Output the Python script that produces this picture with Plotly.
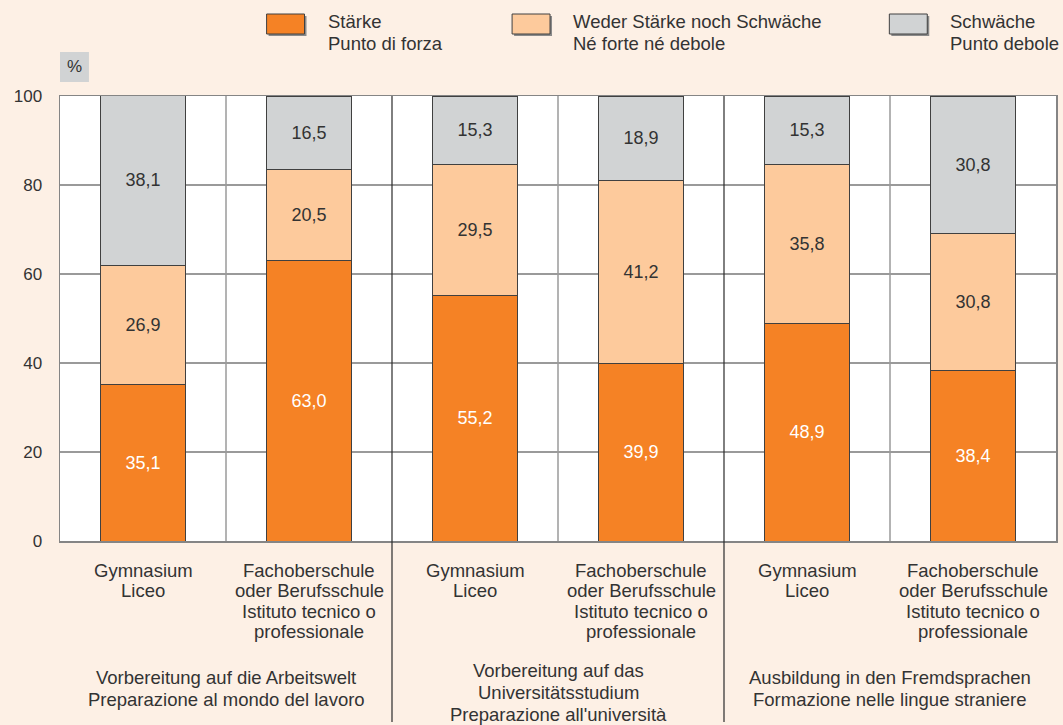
import plotly.graph_objects as go

categories = [0, 1, 2, 3, 4, 5]
tick_labels = [
    ["Gymnasium", "Liceo"],
    ["Fachoberschule", "oder Berufsschule", "Istituto tecnico o", "professionale"],
    ["Gymnasium", "Liceo"],
    ["Fachoberschule", "oder Berufsschule", "Istituto tecnico o", "professionale"],
    ["Gymnasium", "Liceo"],
    ["Fachoberschule", "oder Berufsschule", "Istituto tecnico o", "professionale"],
]
group_labels = [
    ["Vorbereitung auf die Arbeitswelt", "Preparazione al mondo del lavoro"],
    ["Vorbereitung auf das", "Universitätsstudium", "Preparazione all'università"],
    ["Ausbildung in den Fremdsprachen", "Formazione nelle lingue straniere"],
]
group_centers = [0.5, 2.5, 4.5]

staerke = [35.1, 63.0, 55.2, 39.9, 48.9, 38.4]
weder = [26.9, 20.5, 29.5, 41.2, 35.8, 30.8]
schwaeche = [38.1, 16.5, 15.3, 18.9, 15.3, 30.8]

series_names = [["Stärke", "Punto di forza"],
                ["Weder Stärke noch Schwäche", "Né forte né debole"],
                ["Schwäche", "Punto debole"]]
colors = ["#f58225", "#fdca9c", "#d1d3d4"]
text_colors = ["#ffffff", "#333333", "#333333"]

BG = "#fdf0e5"
FONT = "Liberation Sans, Arial, sans-serif"
TXT = "#333333"
FS = 18.5

def fmt(v):
    return f"{v:.1f}".replace(".", ",")

fig = go.Figure()
for vals, name, col, tcol in zip([staerke, weder, schwaeche], series_names, colors, text_colors):
    fig.add_trace(go.Bar(
        x=categories, y=vals, name=" / ".join(name), width=0.51,
        marker=dict(color=col, line=dict(color="#404040", width=1)),
        text=[fmt(v) for v in vals], textposition="inside", insidetextanchor="middle",
        textfont=dict(family=FONT, size=18, color=tcol), textangle=0,
        showlegend=False, hoverinfo="skip",
    ))

W, H = 1063, 725
L, R, T, B = 60, 5, 96, 184
pw, ph = W - L - R, H - T - B
def px(x):
    return (x - L) / pw
def py(y):
    return (H - B - y) / ph

shapes = []
for xv in [0.5, 2.5, 4.5]:
    shapes.append(dict(type="line", xref="x", yref="paper", x0=xv, x1=xv, y0=0, y1=1,
                       line=dict(color="#9a9a9a", width=1.5), layer="below"))
for xv in [1.5, 3.5]:
    shapes.append(dict(type="line", xref="x", yref="paper", x0=xv, x1=xv, y0=py(722), y1=1,
                       line=dict(color="#2a2a2a", width=1.2), layer="above"))

annotations = []
def add_text(x, y, s, xref="paper", xanchor="center", size=FS):
    annotations.append(dict(xref=xref, yref="paper", x=x, y=py(y), xanchor=xanchor, yanchor="middle",
                            text=s, showarrow=False, font=dict(family=FONT, size=size, color=TXT)))

legend_pos = [(267, 327), (513, 572), (891, 950)]
for (bx, tx), col, name in zip(legend_pos, colors, series_names):
    shapes.append(dict(type="rect", xref="paper", yref="paper",
                       x0=px(bx + 2), x1=px(bx + 40), y0=py(36), y1=py(16),
                       fillcolor="#8a8a8a", line=dict(width=0)))
    shapes.append(dict(type="rect", xref="paper", yref="paper",
                       x0=px(bx), x1=px(bx + 38), y0=py(34), y1=py(14),
                       fillcolor=col, line=dict(color="#404040", width=1)))
    add_text(px(tx), 21, name[0], xanchor="left")
    add_text(px(tx), 44, name[1], xanchor="left")

shapes.append(dict(type="rect", xref="paper", yref="paper", x0=px(60), x1=px(89), y0=py(82), y1=py(52),
                   fillcolor="#d1d3d4", line=dict(width=0)))
add_text(px(74.5), 67, "%", size=17)

tick_line_y = [570, 590.5, 611, 631.5]
for c, lines in zip(categories, tick_labels):
    for ln, yy in zip(lines, tick_line_y):
        add_text(c, yy, ln, xref="x")

for gc, lines in zip(group_centers, group_labels):
    ys = [677, 699] if len(lines) == 2 else [670, 692, 714]
    for ln, yy in zip(lines, ys):
        add_text(gc, yy, ln, xref="x")

fig.update_layout(
    width=W, height=H, barmode="stack", bargap=0,
    paper_bgcolor=BG, plot_bgcolor="#ffffff",
    margin=dict(l=L, r=R, t=T, b=B, pad=0),
    font=dict(family=FONT, size=FS, color=TXT),
    shapes=shapes, annotations=annotations, showlegend=False,
)
fig.update_xaxes(range=[-0.5, 5.5], tickvals=categories, showticklabels=False,
                 showgrid=False, showline=True, mirror=True, linecolor="#858585", linewidth=1.5,
                 zeroline=False, fixedrange=True)
fig.update_yaxes(range=[0, 100], tickvals=[0, 20, 40, 60, 80, 100],
                 showgrid=True, gridcolor="#9a9a9a", gridwidth=1.5,
                 showline=True, mirror=True, linecolor="#858585", linewidth=1.5,
                 ticks="outside", ticklen=13, tickcolor="rgba(0,0,0,0)",
                 tickfont=dict(family=FONT, size=17, color=TXT), zeroline=False, fixedrange=True)

fig.write_html("out.html", config={"displayModeBar": False, "staticPlot": True},
               post_script="document.body.style.margin='0';document.body.style.overflow='hidden';")
